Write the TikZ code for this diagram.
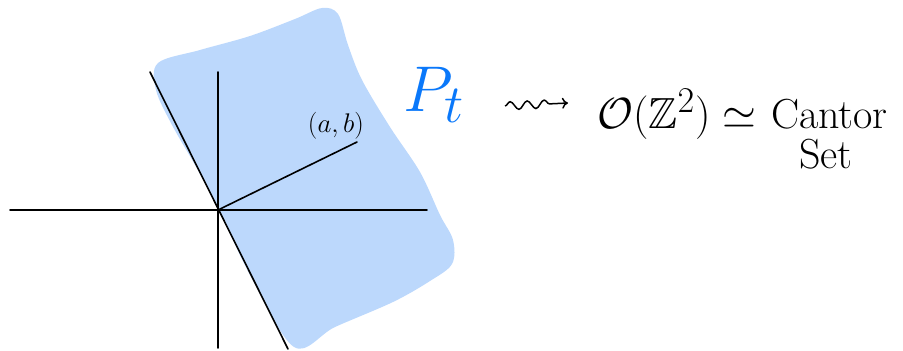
\documentclass[tikz,border=0pt]{standalone}
\usepackage{amssymb}
\usetikzlibrary{decorations.pathmorphing,arrows.meta}
\definecolor{regionblue}{RGB}{188,216,252}
\definecolor{penblue}{RGB}{10,120,250}
\tikzset{
  axis/.style={line width=1.6pt, black, line cap=round},
  hand/.style={inner sep=0pt, font=\fontsize{42}{48}\selectfont},
  mathhand/.style={inner sep=0pt, font=\fontsize{24.88}{30}\selectfont, scale=1.75},
}
\begin{document}
\begin{tikzpicture}[x=1pt,y=-1pt]
\useasboundingbox (0,0) rectangle (903,351);
% shaded region
\fill[regionblue] plot[smooth cycle, tension=0.55] coordinates {
 (158,63) (200,50) (250,36) (295,19) (322,8) (338,14) (348,45) (362,80)
 (390,127) (420,172) (440,215) (453,240) (452,264) (430,281) (393,302)
 (335,327) (294,347) (250,275) (218,208) (195,165) (172,125) (156,90)};
% coordinates
\coordinate (O) at (218,210);
\coordinate (xl) at (10,210);
\coordinate (xr) at (427,210);
\coordinate (yt) at (218,72);
\coordinate (yb) at (218,348);
\coordinate (dt) at (150,72);
\coordinate (db) at (288,349);
\coordinate (v) at (357,142);
\draw[axis] (xl) -- (xr);
\draw[axis] (yt) -- (yb);
\draw[axis] (dt) -- (db);
\draw[axis] (O) -- (v);
\node[font=\fontsize{20.74}{24}\selectfont, scale=1.3] (ab) at (336,126) {$(a,b)$};
\node[text=penblue, font=\fontsize{24.88}{30}\selectfont, scale=2.6] (P) at (434,95) {$P_t$};
\coordinate (s1) at (505,106);
\coordinate (s2) at (568,103);
\draw[line width=1.5pt, decorate, decoration={snake, amplitude=4pt, segment length=17pt, post length=10pt}, -{To[length=6pt,width=11pt]}] (s1) -- (s2);
\node[mathhand, anchor=base west] (O2) at (597,128) {$\mathcal{O}(\mathbb{Z}^2)\simeq$};
\node[hand, anchor=base east] (cantor) at (888,128) {Cantor};
\node[hand, anchor=base] (set) at (826,168) {Set};
\end{tikzpicture}
\end{document}
